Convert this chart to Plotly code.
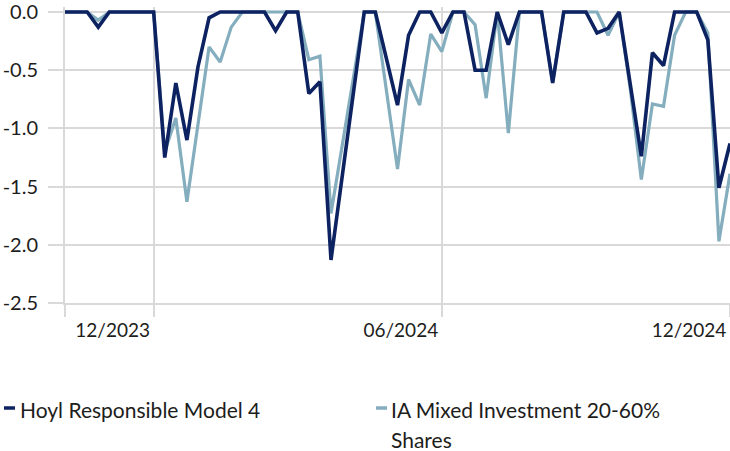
import pandas as pd
import plotly.graph_objects as go

# Weekly observation dates (category axis)
dates = list(pd.date_range(start="2023-10-06", periods=61, freq="7D"))

# Drawdown (%) - Hoyl Responsible Model 4
hoyl = [0, 0, 0, -0.13, 0, 0, 0, 0, 0, -1.25,
        -0.61, -1.10, -0.47, -0.05, 0, 0, 0, 0, 0, -0.16,
        0, 0, -0.70, -0.60, -2.13, -1.42, -0.71, 0, 0, -0.40,
        -0.80, -0.20, 0, 0, -0.18, 0, 0, -0.50, -0.50, 0,
        -0.28, 0, 0, 0, -0.61, 0, 0, 0, -0.18, -0.14,
        0, -0.62, -1.24, -0.35, -0.46, 0, 0, 0, -0.24, -1.51,
        -1.13]

# Drawdown (%) - IA Mixed Investment 20-60% Shares
ia_mixed = [0, 0, 0, -0.07, 0, 0, 0, 0, 0, -1.20,
            -0.91, -1.63, -0.96, -0.30, -0.43, -0.13, 0, 0, 0, 0,
            0, 0, -0.41, -0.38, -1.73, -1.15, -0.58, 0, 0, -0.66,
            -1.35, -0.58, -0.80, -0.19, -0.34, 0, 0, -0.11, -0.74, 0,
            -1.04, 0, 0, 0, -0.60, 0, 0, 0, 0, -0.20,
            0, -0.66, -1.44, -0.79, -0.81, -0.20, 0, 0, -0.18, -1.97,
            -1.39]

series_names = ["Hoyl Responsible Model 4", "IA Mixed Investment 20-60% Shares"]
series_colors = ["#0d2260", "#84adbe"]

x_grid_dates = [dates[0], dates[8], dates[34], dates[60]]
x_tick_labels = ["", "12/2023", "06/2024", "12/2024"]
y_tick_vals = [0.0, -0.5, -1.0, -1.5, -2.0, -2.5]
y_tick_labels = ["0.0", "-0.5", "-1.0", "-1.5", "-2.0", "-2.5"]

TICK_FONT = "Lato, sans-serif"
LEG_FONT = "Lato, sans-serif"
TXT = "#1d1d1b"
GRID = "#d9d9d9"

fig = go.Figure()
fig.add_trace(go.Scatter(x=dates, y=ia_mixed, mode="lines",
                         line=dict(color=series_colors[1], width=3.2),
                         name=series_names[1], showlegend=False))
fig.add_trace(go.Scatter(x=dates, y=hoyl, mode="lines",
                         line=dict(color=series_colors[0], width=3.6),
                         name=series_names[0], showlegend=False))

L, T, B = 65, 7, 148
W, H = 730, 451
pw = W - L
ph = H - T - B

def px_x(x):
    return (x - L) / pw

def px_y(y):
    return (H - B - y) / ph

fig.update_layout(
    width=W, height=H,
    margin=dict(l=L, r=0, t=T, b=B, autoexpand=False),
    plot_bgcolor="white", paper_bgcolor="white",
    font=dict(family=TICK_FONT, size=19, color=TXT),
    hovermode=False,
    xaxis=dict(
        range=[dates[0], dates[60]],
        tickmode="array", tickvals=x_grid_dates, ticktext=x_tick_labels,
        showgrid=True, gridcolor=GRID, gridwidth=2,
        ticks="outside", ticklen=12, tickwidth=2, tickcolor=GRID,
        ticklabelshift=-41, ticklabelstandoff=-3,
        ticklabeloverflow="allow",
        showline=True, linecolor=GRID, linewidth=2,
        zeroline=False, automargin=False,
        tickfont=dict(family=TICK_FONT, size=19, color=TXT),
    ),
    yaxis=dict(
        range=[-2.5, 5 / 116.4],
        tickmode="array", tickvals=y_tick_vals, ticktext=y_tick_labels,
        showgrid=True, gridcolor=GRID, gridwidth=2,
        ticks="outside", ticklen=15, tickwidth=2, tickcolor=GRID,
        ticklabelstandoff=6,
        ticklabeloverflow="allow",
        showline=True, linecolor=GRID, linewidth=2,
        zeroline=False, automargin=False,
        tickfont=dict(family=TICK_FONT, size=20, color=TXT),
    ),
)

# Manual legend (symbol dash + real text)
legend_items = [
    (4, 15, 18, 408, ["Hoyl Responsible Model 4"], series_colors[0]),
    (376, 387, 389, 408, ["IA Mixed Investment 20-60%", "Shares"], series_colors[1]),
]
for x0, x1, xt, yc, lines, col in legend_items:
    fig.add_shape(type="line", xref="paper", yref="paper",
                  x0=px_x(x0), x1=px_x(x1), y0=px_y(yc), y1=px_y(yc),
                  line=dict(color=col, width=3.5))
    for k, t in enumerate(lines):
        fig.add_annotation(xref="paper", yref="paper", x=px_x(xt), y=px_y(yc + 1 + 30 * k),
                           xanchor="left", yanchor="middle", text=t, showarrow=False,
                           font=dict(family=LEG_FONT, size=21, color=TXT))

fig.write_html("out.html",
               config={"displayModeBar": False, "staticPlot": True},
               post_script="document.body.style.margin='0';document.body.style.overflow='hidden';")
